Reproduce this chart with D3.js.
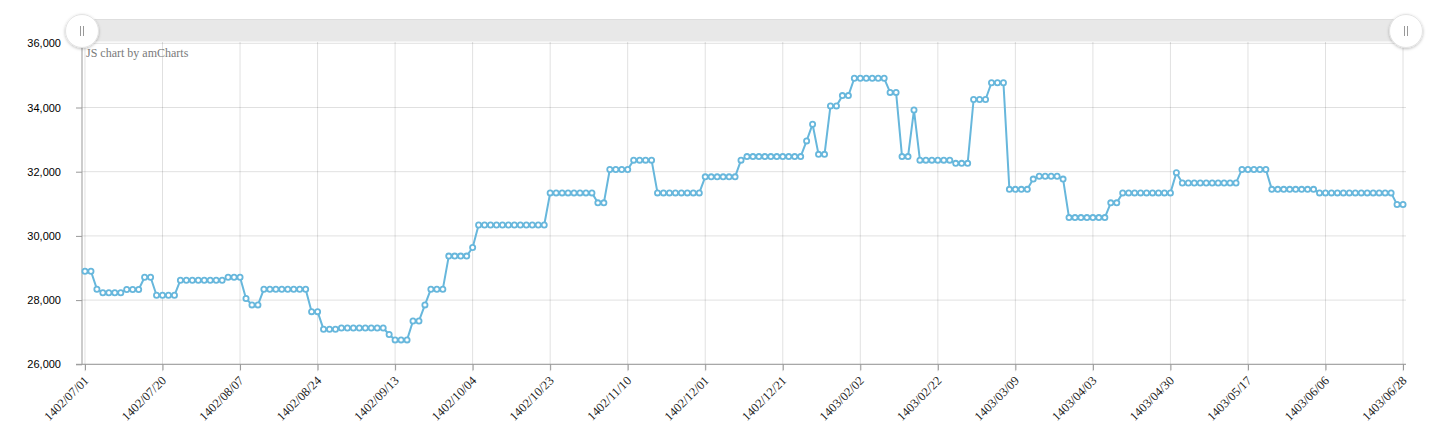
<!DOCTYPE html>
<html>
<head>
<meta charset="utf-8">
<script src="https://cdn.jsdelivr.net/npm/d3@7"></script>
<style>
  body { margin: 0; background: #fff; }
  svg { display: block; }
  .y-label { font-family: "Liberation Sans", Arial, sans-serif; font-size: 11px; fill: #000; }
  .x-label { font-family: "Liberation Serif", "Times New Roman", serif; font-size: 12.5px; fill: #222; }
  .credit { font-family: "Liberation Serif", "Times New Roman", serif; font-size: 12px; fill: #7a7a7a; }
</style>
</head>
<body>
<svg id="chart" width="1438" height="440"></svg>
<script>
// labels shown on the category axis (one every 13 trading days)
var tickLabels = ['1402/07/01', '1402/07/20', '1402/08/07', '1402/08/24', '1402/09/13',
  '1402/10/04', '1402/10/23', '1402/11/10', '1402/12/01', '1402/12/21', '1403/02/02',
  '1403/02/22', '1403/03/09', '1403/04/03', '1403/04/30', '1403/05/17', '1403/06/06',
  '1403/06/28'];

var yTicks = [26000, 28000, 30000, 32000, 34000, 36000];

// daily closing values
var prices = [
  28900, 28900, 28340, 28230, 28230, 28230, 28230, 28330, 28330, 28330, 28710, 28710, 28150,
  28150, 28150, 28150, 28620, 28620, 28620, 28620, 28620, 28620, 28620, 28620, 28710, 28710,
  28710, 28050, 27850, 27850, 28340, 28340, 28340, 28340, 28340, 28340, 28340, 28340, 27640,
  27640, 27090, 27090, 27090, 27130, 27130, 27130, 27130, 27130, 27130, 27130, 27130, 26930,
  26760, 26760, 26760, 27350, 27350, 27850, 28340, 28340, 28340, 29370, 29370, 29370, 29370,
  29640, 30340, 30340, 30340, 30340, 30340, 30340, 30340, 30340, 30340, 30340, 30340, 30340,
  31340, 31340, 31340, 31340, 31340, 31340, 31340, 31340, 31030, 31030, 32070, 32070, 32070,
  32070, 32360, 32360, 32360, 32360, 31340, 31340, 31340, 31340, 31340, 31340, 31340, 31340,
  31840, 31840, 31840, 31840, 31840, 31840, 32360, 32470, 32470, 32470, 32470, 32470, 32470,
  32470, 32470, 32470, 32470, 32960, 33480, 32540, 32540, 34050, 34050, 34370, 34370, 34910,
  34910, 34910, 34910, 34910, 34910, 34470, 34470, 32470, 32470, 33920, 32360, 32360, 32360,
  32360, 32360, 32360, 32260, 32260, 32260, 34250, 34250, 34250, 34770, 34770, 34770, 31450,
  31450, 31450, 31450, 31770, 31860, 31860, 31860, 31860, 31770, 30570, 30570, 30570, 30570,
  30570, 30570, 30570, 31030, 31030, 31340, 31340, 31340, 31340, 31340, 31340, 31340, 31340,
  31340, 31970, 31650, 31650, 31650, 31650, 31650, 31650, 31650, 31650, 31650, 31650, 32070,
  32070, 32070, 32070, 32070, 31450, 31450, 31450, 31450, 31450, 31450, 31450, 31450, 31340,
  31340, 31340, 31340, 31340, 31340, 31340, 31340, 31340, 31340, 31340, 31340, 31340, 30980,
  30980
];

var labelStep = 13;
var lineColor = '#67b7dc';
var plot = {left: 82, right: 1406, top: 42, bottom: 364.3};

var svg = d3.select('#chart');

var x = d3.scalePoint()
  .domain(d3.range(prices.length))
  .range([plot.left, plot.right])
  .padding(0.5);

var y = d3.scaleLinear()
  .domain([26000, 36000])
  .range([plot.bottom, 43.3]);

var tickIdx = tickLabels.map(function(d, i) { return i * labelStep; });

// grid
var grid = svg.append('g').attr('class', 'grid');
grid.selectAll('line.h')
  .data(yTicks)
  .enter().append('line')
  .attr('class', 'h')
  .attr('x1', plot.left).attr('x2', plot.right)
  .attr('y1', function(d) { return y(d); })
  .attr('y2', function(d) { return y(d); })
  .attr('stroke', '#000').attr('stroke-opacity', 0.12);

grid.selectAll('line.v')
  .data(tickIdx)
  .enter().append('line')
  .attr('class', 'v')
  .attr('x1', function(d) { return x(d); })
  .attr('x2', function(d) { return x(d); })
  .attr('y1', plot.top).attr('y2', plot.bottom + 7)
  .attr('stroke', '#000').attr('stroke-opacity', 0.12);

// y axis
var yAxis = d3.axisLeft(y)
  .tickValues(yTicks)
  .tickSize(6)
  .tickPadding(15)
  .tickFormat(d3.format(','));

var yg = svg.append('g')
  .attr('transform', 'translate(' + plot.left + ',0)')
  .call(yAxis);
yg.select('.domain').remove();
yg.selectAll('line').attr('stroke', '#999');
yg.selectAll('text').attr('class', 'y-label').attr('fill', null);

svg.append('line')
  .attr('x1', plot.left).attr('x2', plot.left)
  .attr('y1', plot.top).attr('y2', plot.bottom)
  .attr('stroke', '#999');

// x axis
var xAxis = d3.axisBottom(x)
  .tickValues(tickIdx)
  .tickSize(6)
  .tickFormat(function(d) { return tickLabels[d / labelStep]; });

var xg = svg.append('g')
  .attr('transform', 'translate(0,' + plot.bottom + ')')
  .call(xAxis);
xg.select('.domain').remove();
xg.selectAll('line').attr('stroke', '#999');
xg.selectAll('text')
  .attr('class', 'x-label')
  .attr('fill', null)
  .attr('text-anchor', 'end')
  .attr('dy', null)
  .attr('y', null)
  .attr('transform', 'translate(4,17) rotate(-45)');

svg.append('line')
  .attr('x1', plot.left - 6).attr('x2', plot.right)
  .attr('y1', plot.bottom).attr('y2', plot.bottom)
  .attr('stroke', '#999');

// series
var line = d3.line()
  .x(function(d, i) { return x(i); })
  .y(function(d) { return y(d); });

svg.append('path')
  .datum(prices)
  .attr('fill', 'none')
  .attr('stroke', lineColor)
  .attr('stroke-width', 2)
  .attr('stroke-linejoin', 'round')
  .attr('d', line);

svg.append('g')
  .selectAll('circle')
  .data(prices)
  .enter().append('circle')
  .attr('cx', function(d, i) { return x(i); })
  .attr('cy', function(d) { return y(d); })
  .attr('r', 2.6)
  .attr('fill', '#fff')
  .attr('stroke', lineColor)
  .attr('stroke-width', 1.8);

svg.append('text')
  .attr('class', 'credit')
  .attr('x', 86).attr('y', 57)
  .text('JS chart by amCharts');

// scrollbar on top
var defs = svg.append('defs');
var shadow = defs.append('filter').attr('id', 'shadow')
  .attr('x', '-50%').attr('y', '-50%').attr('width', '200%').attr('height', '200%');
shadow.append('feDropShadow')
  .attr('dx', 0).attr('dy', 1).attr('stdDeviation', 1.5)
  .attr('flood-color', '#000').attr('flood-opacity', 0.25);

svg.append('rect')
  .attr('x', plot.left).attr('y', 19)
  .attr('width', plot.right - plot.left).attr('height', 22.5)
  .attr('fill', '#e8e8e8');
svg.append('line')
  .attr('x1', plot.left).attr('x2', plot.right)
  .attr('y1', 19.5).attr('y2', 19.5)
  .attr('stroke', '#dedede');

[plot.left, plot.right].forEach(function(cx) {
  var h = svg.append('g').attr('transform', 'translate(' + cx + ',31)');
  h.append('circle')
    .attr('r', 16.5)
    .attr('fill', '#fff')
    .attr('stroke', '#e4e4e4')
    .attr('filter', 'url(#shadow)');
  [-1.5, 1.5].forEach(function(dx) {
    h.append('line')
      .attr('x1', dx).attr('x2', dx)
      .attr('y1', -5).attr('y2', 5)
      .attr('stroke', '#999');
  });
});
</script>
</body>
</html>
